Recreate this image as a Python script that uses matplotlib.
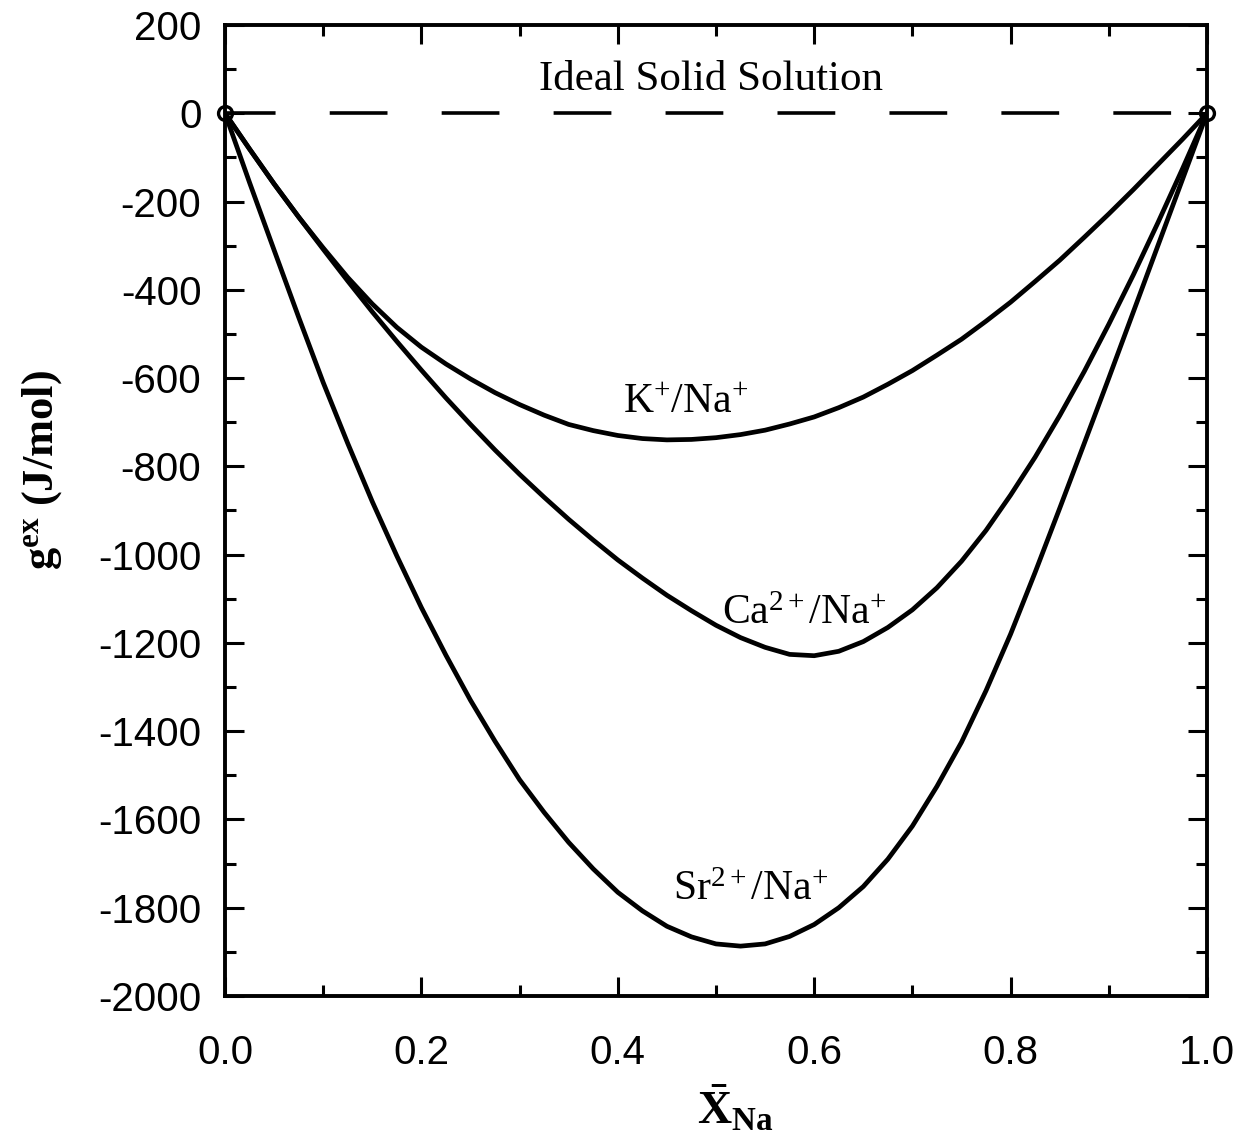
import numpy as np
import matplotlib.pyplot as plt
from matplotlib.ticker import MultipleLocator

plt.rcParams['mathtext.fontset'] = 'custom'
plt.rcParams['mathtext.rm'] = 'Liberation Serif'
plt.rcParams['mathtext.it'] = 'Liberation Serif:italic'
plt.rcParams['mathtext.bf'] = 'Liberation Serif:bold'

# mole fraction of Na in the solid, steps of 0.025
x_na = [0.0, 0.025, 0.05, 0.075, 0.1, 0.125, 0.15, 0.175, 0.2, 0.225,
        0.25, 0.275, 0.3, 0.325, 0.35, 0.375, 0.4, 0.425, 0.45, 0.475,
        0.5, 0.525, 0.55, 0.575, 0.6, 0.625, 0.65, 0.675, 0.7, 0.725,
        0.75, 0.775, 0.8, 0.825, 0.85, 0.875, 0.9, 0.925, 0.95, 0.975, 1.0]

# excess gibbs energy (J/mol)
g_k = [0, -81, -160, -235, -305, -372, -432, -485, -530, -568,
       -602, -633, -660, -684, -705, -719, -730, -737, -740, -739,
       -735, -728, -718, -704, -688, -667, -643, -614, -583, -548,
       -512, -471, -428, -381, -333, -281, -228, -173, -116, -59, 0]
g_ca = [0, -81, -160, -235, -308, -380, -450, -517, -582, -645,
        -705, -763, -818, -870, -920, -967, -1012, -1053, -1092, -1127,
        -1160, -1188, -1210, -1226, -1229, -1219, -1197, -1165, -1125, -1075,
        -1015, -945, -865, -779, -685, -585, -478, -366, -248, -126, 0]
g_sr = [0, -157, -310, -462, -610, -748, -880, -1003, -1120, -1228,
        -1330, -1423, -1510, -1584, -1652, -1712, -1765, -1807, -1842, -1866,
        -1882, -1887, -1882, -1865, -1838, -1800, -1752, -1690, -1615, -1525,
        -1425, -1308, -1180, -1040, -895, -748, -600, -450, -300, -150, 0]

ideal_x = [0.0, 1.0]
ideal_g = [0, 0]

fig = plt.figure(figsize=(12.59, 11.47), dpi=100)
ax = fig.add_axes([225/1259, 1-996/1147, (1207-225)/1259, (996-25)/1147])

lw = 3.4
for g in (g_k, g_ca, g_sr):
    ax.plot(x_na, g, color='k', lw=lw, solid_capstyle='round', solid_joinstyle='round')
ax.plot(ideal_x, ideal_g, color='k', lw=2.6, linestyle=(2, (16, 15)))
ax.plot(ideal_x, ideal_g, 'o', ms=10, mfc='none', mec='k', mew=2.4, clip_on=False)

ax.set_xlim(0, 1.0)
ax.set_ylim(-2000, 200)
ax.xaxis.set_major_locator(MultipleLocator(0.2))
ax.xaxis.set_minor_locator(MultipleLocator(0.1))
ax.yaxis.set_major_locator(MultipleLocator(200))
ax.yaxis.set_minor_locator(MultipleLocator(100))
ax.xaxis.set_major_formatter(lambda v, p: f'{v:.1f}')
ax.yaxis.set_major_formatter(lambda v, p: f'{v:.0f}')

ax.tick_params(which='both', direction='in', top=True, right=True, width=2.2)
ax.tick_params(which='major', length=14)
ax.tick_params(which='minor', length=8)
ax.tick_params(axis='x', which='major', labelsize=29, pad=27)
ax.tick_params(axis='y', which='major', labelsize=29, pad=17)
for lab in ax.get_xticklabels() + ax.get_yticklabels():
    lab.set_fontfamily('Liberation Sans')
for sp in ax.spines.values():
    sp.set_linewidth(2.8)

tf = 'Liberation Serif'
fs = 30
ax.text(0.495, 75, 'Ideal Solid Solution', fontsize=31, family=tf, ha='center', va='center')
ax.text(0.469, -655, r'K$^{+}$/Na$^{+}$', fontsize=fs, family=tf, ha='center', va='center')
ax.text(0.59, -1135, r'Ca$^{2+}$/Na$^{+}$', fontsize=fs, family=tf, ha='center', va='center')
ax.text(0.535, -1760, r'Sr$^{2+}$/Na$^{+}$', fontsize=fs, family=tf, ha='center', va='center')

fig.text(42/1259, 1-470/1147, r'$\mathbf{g^{ex}}$ (J/mol)', rotation=90, fontsize=32,
         family=tf, fontweight='bold', ha='center', va='center')
fig.text(735/1259, 1-1110/1147, r'$\mathbf{\bar{X}_{Na}}$', fontsize=34,
         ha='center', va='center')

fig.savefig('out.png', dpi=100)
